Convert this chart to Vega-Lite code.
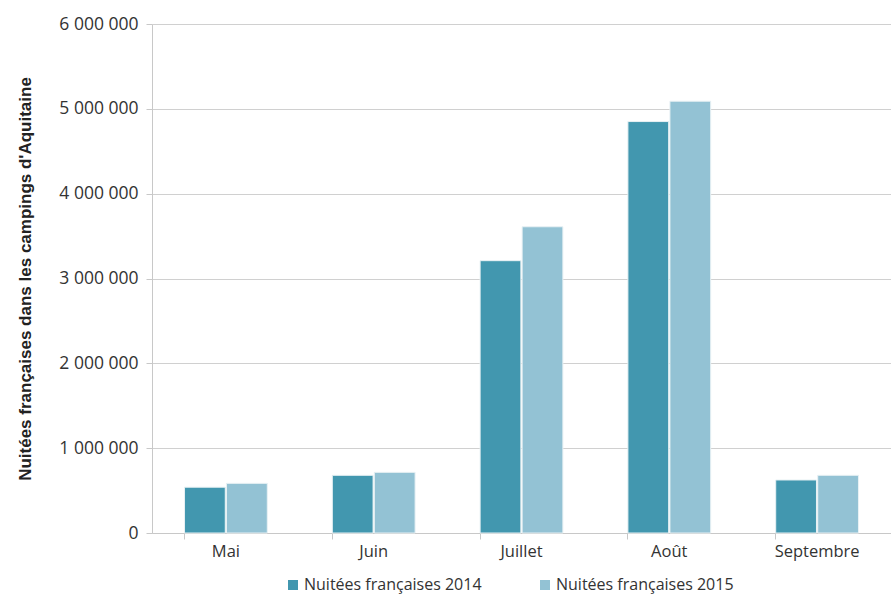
{
  "$schema": "https://vega.github.io/schema/vega-lite/v6.json",
  "autosize": {"type": "none"},
  "padding": {"left": 152, "top": 24, "right": 0, "bottom": 64},
  "width": 739,
  "height": 509,
  "background": "white",
  "config": {
    "font": "Open Sans",
    "view": {"stroke": null}
  },
  "data": {
    "values": [
      {"mois": "Mai", "serie": "Nuitées françaises 2014", "valeur": 540000},
      {"mois": "Mai", "serie": "Nuitées françaises 2015", "valeur": 585000},
      {"mois": "Juin", "serie": "Nuitées françaises 2014", "valeur": 680000},
      {"mois": "Juin", "serie": "Nuitées françaises 2015", "valeur": 715000},
      {"mois": "Juillet", "serie": "Nuitées françaises 2014", "valeur": 3210000},
      {"mois": "Juillet", "serie": "Nuitées françaises 2015", "valeur": 3610000},
      {"mois": "Août", "serie": "Nuitées françaises 2014", "valeur": 4850000},
      {"mois": "Août", "serie": "Nuitées françaises 2015", "valeur": 5090000},
      {"mois": "Septembre", "serie": "Nuitées françaises 2014", "valeur": 625000},
      {"mois": "Septembre", "serie": "Nuitées françaises 2015", "valeur": 680000}
    ]
  },
  "mark": {"type": "bar", "stroke": "#e8f1f4", "strokeWidth": 1},
  "encoding": {
    "x": {
      "field": "mois",
      "type": "nominal",
      "sort": ["Mai", "Juin", "Juillet", "Août", "Septembre"],
      "scale": {"paddingInner": 0.44, "paddingOuter": 0.22},
      "axis": {
        "title": null,
        "labelAngle": 0,
        "labelFontSize": 16.5,
        "labelColor": "#333333",
        "labelPadding": 4,
        "domainColor": "#c8c8c8",
        "tickColor": "#c8c8c8",
        "tickSize": 6,
        "bandPosition": 0,
        "grid": false
      }
    },
    "xOffset": {
      "field": "serie",
      "type": "nominal",
      "scale": {"paddingInner": 0.03}
    },
    "y": {
      "field": "valeur",
      "type": "quantitative",
      "scale": {"domain": [0, 6000000]},
      "axis": {
        "title": "Nuitées françaises dans les campings d'Aquitaine",
        "titleFont": "Liberation Sans",
        "titleFontSize": 17,
        "titleFontWeight": "bold",
        "titleColor": "#222222",
        "titlePadding": 24,
        "values": [0, 1000000, 2000000, 3000000, 4000000, 5000000, 6000000],
        "labelExpr": "replace(format(datum.value, ','), regexp(',', 'g'), ' ')",
        "labelFontSize": 17.5,
        "labelColor": "#333333",
        "labelPadding": 8,
        "tickSize": 6,
        "tickColor": "#c8c8c8",
        "domainColor": "#c8c8c8",
        "gridColor": "#d0d0d0"
      }
    },
    "color": {
      "field": "serie",
      "type": "nominal",
      "scale": {"range": ["#4297af", "#93c2d4"]},
      "legend": {
        "title": null,
        "orient": "none",
        "legendX": 133,
        "legendY": 553,
        "direction": "horizontal",
        "symbolType": "square",
        "symbolSize": 100,
        "symbolStrokeWidth": 0,
        "labelFontSize": 16,
        "labelLimit": 0,
        "labelColor": "#333333",
        "labelOffset": 3,
        "columnPadding": 55
      }
    }
  }
}
